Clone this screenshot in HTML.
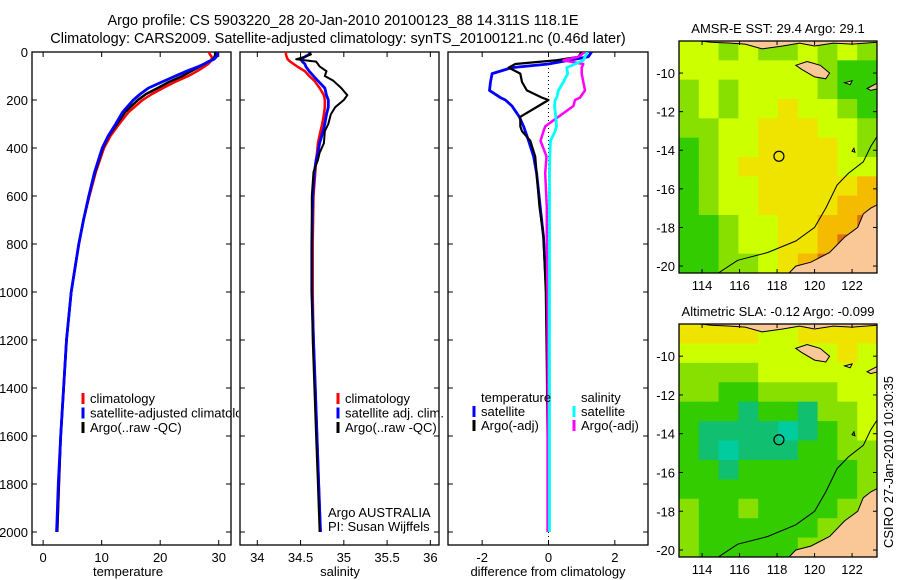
<!DOCTYPE html>
<html><head><meta charset="utf-8"><style>
html,body{margin:0;padding:0;background:#fff;}
svg{display:block;font-family:"Liberation Sans",sans-serif;}
</style></head><body>
<svg id="fig" width="900" height="580" xmlns="http://www.w3.org/2000/svg">
<text x="343" y="25" font-size="14.5" text-anchor="middle">Argo profile: CS 5903220_28 20-Jan-2010 20100123_88 14.311S 118.1E</text>
<text x="338" y="43" font-size="14.5" text-anchor="middle">Climatology: CARS2009. Satellite-adjusted climatology: synTS_20100121.nc (0.46d later)</text>
<text x="0" y="0" font-size="13" text-anchor="middle" transform="translate(893,462) rotate(-90)">CSIRO 27-Jan-2010 10:30:35</text>
</svg>
<script>
// ---------- profile data ----------
const tDepth = [0,10,20,30,40,50,60,80,100,125,150,175,200,250,300,350,400,500,600,700,800,1000,1200,1400,1600,1800,2000];
const argoT = [29.4,29.4,29.3,29.0,28.2,27.5,26.8,25.3,23.8,21.5,19.6,17.6,16.2,14.0,12.6,11.2,10.2,8.9,7.8,6.9,6.1,4.8,4.0,3.5,3.0,2.7,2.4];
const climT = [28.3,28.5,28.8,28.8,28.6,28.2,27.6,26.3,24.8,22.5,20.5,18.6,17.0,14.6,13.0,11.5,10.4,9.0,7.9,6.9,6.1,4.8,4.0,3.5,3.0,2.7,2.4];
const satT  = [29.8,29.8,29.6,29.2,28.3,27.5,26.6,24.5,22.6,20.3,18.0,16.6,15.4,13.6,12.4,11.1,10.1,8.8,7.8,6.9,6.1,4.8,4.0,3.5,3.0,2.6,2.3];

const sDepth = [0,10,20,30,40,50,60,80,100,120,150,180,200,230,260,300,330,380,420,450,500,600,800,1000,1200,1400,1600,1800,2000];
const argoS = [34.6,34.62,34.55,34.45,34.68,34.7,34.72,34.8,34.78,34.88,34.97,35.04,35.0,34.9,34.85,34.82,34.78,34.77,34.72,34.7,34.65,34.63,34.63,34.63,34.64,34.66,34.68,34.70,34.72];
const climS = [34.33,34.33,34.34,34.35,34.38,34.42,34.46,34.55,34.6,34.66,34.72,34.77,34.78,34.78,34.77,34.75,34.73,34.7,34.69,34.68,34.67,34.65,34.64,34.64,34.65,34.67,34.69,34.71,34.73];
const satS  = [34.61,34.6,34.55,34.5,34.52,34.55,34.56,34.6,34.65,34.7,34.78,34.8,34.82,34.82,34.8,34.78,34.76,34.72,34.7,34.68,34.66,34.64,34.63,34.63,34.65,34.67,34.69,34.71,34.73];

const dDepth = [0,20,35,50,65,90,125,160,190,200,225,270,310,330,370,435,505,645,770,1000,1300,1600,2000];
const satTdiff  = [1.3,1.2,0.6,0,-1.1,-1.7,-1.75,-1.78,-1.45,-1.3,-1.1,-0.88,-0.75,-0.7,-0.6,-0.45,-0.36,-0.25,-0.15,-0.06,-0.02,0,0];
const argoTdiff = [1.0,0.9,0.2,-1.0,-1.2,-0.85,-0.8,-0.65,-0.2,0,-0.3,-0.85,-0.85,-0.8,-0.55,-0.4,-0.36,-0.27,-0.15,-0.08,-0.05,-0.03,-0.03];
const satSdiff  = [1.17,1.1,1.05,0.8,0.55,0.58,0.45,0.3,0.25,0.2,0.18,0.22,0.24,0.2,0.06,0.04,0.03,0.03,0.03,0.03,0.03,0.03,0.03];
const argoSdiff = [1.1,0.9,0.45,1.05,1.0,1.0,1.05,1.1,0.95,0.8,0.75,0.3,-0.1,-0.15,-0.24,-0.06,-0.1,-0.05,-0.05,-0.03,-0.02,-0.02,-0.02];

const depthTicks = [0,200,400,600,800,1000,1200,1400,1600,1800,2000];
const tempTicks = [0,10,20,30];
const salTicks = [34,34.5,35,35.5,36];
const diffTicks = [-2,0,2];
const lonTicks = [114,116,118,120,122];
const latTicks = [-10,-12,-14,-16,-18,-20];

// ---------- map grids (colour index values) ----------
const sstGrid = [
[6,6,5,6,5,5,6,5,6,5],
[6,6,6,6,6,6,6,5,4,4],
[5,6,5,6,6,6,6,5,4,4],
[5,6,5,6,6,7,6,6,5,4],
[5,5,6,6,7,7,7,6,6,5],
[4,5,6,6,7,7,7,7,6,5],
[4,5,6,7,7,7,7,7,6,6],
[4,5,6,6,7,7,7,7,7,8],
[4,5,6,6,7,7,7,7,8,8],
[4,4,5,6,6,7,7,8,8,9],
[4,4,5,6,6,7,7,8,9,9],
[4,4,5,5,6,7,8,9,9,9]];
const slaGrid = [
[7,7,7,7,6,6,7,7,7,7],
[6,6,6,6,6,6,6,6,7,6],
[5,5,5,5,6,6,6,6,6,6],
[5,5,4,4,5,5,5,5,6,6],
[4,4,4,3,4,4,3,5,5,6],
[4,3,3,3,3,2,3,4,5,6],
[4,3,2,3,3,3,4,4,5,5],
[4,4,3,4,4,4,4,4,4,5],
[4,4,4,4,4,4,4,4,4,5],
[5,4,4,5,4,4,4,4,5,5],
[5,4,4,4,4,4,4,5,5,6],
[5,4,4,4,4,4,5,5,6,6]];
const palette = {2:'#00cca0',3:'#10c070',4:'#33cc00',5:'#88e000',6:'#ccff00',7:'#eee400',8:'#f5bb00',9:'#e07010'};

const argoLon = 118.1, argoLat = -14.311;

const NS = 'http://www.w3.org/2000/svg';
const svg = document.getElementById('fig');
function mk(tag, attrs, parent){ const e=document.createElementNS(NS,tag); for(const k in attrs) e.setAttribute(k,attrs[k]); (parent||svg).appendChild(e); return e; }

function profilePanel(name, x0, x1, vmin, vmax, ticks, label, labelX, showDepthLabels){
  const y0=52, y1=545;
  const xs = v => x0 + (v - vmin)/(vmax - vmin)*(x1 - x0);
  const ys = d => 52 + d*0.24;
  const g = mk('g',{});
  
  
  const frame = mk('rect',{x:x0,y:y0,width:x1-x0,height:y1-y0,fill:'none',stroke:'#000','stroke-width':1.3},g);
  
  
  ticks.forEach(t=>{
    const x=xs(t);
    mk('line',{x1:x,x2:x,y1:y0,y2:y0+5,stroke:'#000'},g);
    mk('line',{x1:x,x2:x,y1:y1,y2:y1-5,stroke:'#000'},g);
    const tl=mk('text',{x:x,y:y1+17,'font-size':13,'text-anchor':'middle'},g);
    tl.textContent=String(t);
    
    
  });
  depthTicks.forEach(d=>{
    const y=ys(d);
    mk('line',{x1:x0,x2:x0+5,y1:y,y2:y,stroke:'#000'},g);
    mk('line',{x1:x1,x2:x1-5,y1:y,y2:y,stroke:'#000'},g);
    if(showDepthLabels){
      const tl=mk('text',{x:x0-4,y:y+5,'font-size':13,'text-anchor':'end'},g);
      tl.textContent=String(d);
      
      
    }
  });
  const al=mk('text',{x:labelX,y:576,'font-size':13,'text-anchor':'middle'},g);
  al.textContent=label;
  
  
  const clipId='clip-'+name;
  const cp=mk('clipPath',{id:clipId},g);
  mk('rect',{x:x0,y:y0,width:x1-x0,height:y1-y0},cp);
  const lines=mk('g',{'clip-path':'url(#'+clipId+')'},g);
  return {xs, ys, g, lines};
}
function series(p, depths, vals, color, w, name){
  const pts = depths.map((d,i)=>p.xs(vals[i]).toFixed(1)+','+p.ys(d).toFixed(1)).join(' ');
  const pl = mk('polyline',{points:pts,fill:'none',stroke:color,'stroke-width':w,'stroke-linejoin':'round'},p.lines);
  
  
}
function legend(p, x, y, color, text, name){
  if(color){ mk('line',{x1:x,x2:x,y1:y-10,y2:y+1,stroke:color,'stroke-width':3},p.g); }
  const t=mk('text',{x:x+7,y:y,'font-size':13},p.g);
  t.textContent=text;
  
  
}

// temperature
const pT = profilePanel('temperature', 32, 231, -1.9, 32.1, tempTicks, 'temperature', 128, true);
series(pT, tDepth, climT, '#ff0000', 2.5, 'temp-climatology-line');
series(pT, tDepth, argoT, '#000000', 2.5, 'temp-argo-line');
series(pT, tDepth, satT, '#0000ff', 2.8, 'temp-satellite-line');
const legClip = mk('clipPath',{id:'legclipT'}); mk('rect',{x:32,y:380,width:207,height:60},legClip);
const legG = mk('g',{'clip-path':'url(#legclipT)'}, pT.g);
[['#ff0000','climatology','legend-climatology'],['#0000ff','satellite-adjusted climatology','legend-satellite-adjusted'],['#000000','Argo(..raw -QC)','legend-argo-raw']].forEach((r,i)=>{
  const y=403+i*14.5;
  mk('line',{x1:83,x2:83,y1:y-10,y2:y+1,stroke:r[0],'stroke-width':3},legG);
  const t=mk('text',{x:90,y:y,'font-size':13},legG); t.textContent=r[1];
  
  
});

// salinity
const pS = profilePanel('salinity', 240, 439, 33.8, 36.1, salTicks, 'salinity', 340, false);
series(pS, sDepth, climS, '#ff0000', 2.5, 'sal-climatology-line');
series(pS, sDepth, satS, '#0000ff', 2.8, 'sal-satellite-line');
series(pS, sDepth, argoS, '#000000', 2, 'sal-argo-line');
legend(pS, 338, 403, '#ff0000', 'climatology', 'sal-legend-climatology');
legend(pS, 338, 417.5, '#0000ff', 'satellite adj. clim.', 'sal-legend-satellite');
legend(pS, 338, 432, '#000000', 'Argo(..raw -QC)', 'sal-legend-argo');
legend(pS, 321, 517, null, 'Argo AUSTRALIA', 'argo-agency-label');
legend(pS, 321, 531, null, 'PI: Susan Wijffels', 'pi-label');

// difference
const pD = profilePanel('difference', 448, 648, -3.03, 3.0, diffTicks, 'difference from climatology', 548, false);
mk('line',{x1:pD.xs(0),x2:pD.xs(0),y1:52,y2:545,stroke:'#000','stroke-dasharray':'1,3'},pD.lines);
series(pD, dDepth, satTdiff, '#0000ff', 2.8, 'diff-temp-satellite-line');
series(pD, dDepth, argoTdiff, '#000000', 2.2, 'diff-temp-argo-line');
series(pD, dDepth, argoSdiff, '#ff00ff', 2.5, 'diff-sal-argo-line');
series(pD, dDepth, satSdiff, '#00ffff', 2.8, 'diff-sal-satellite-line');
legend(pD, 474, 402, null, 'temperature', 'diff-legend-temperature');
legend(pD, 474, 416, '#0000ff', 'satellite', 'diff-legend-temp-satellite');
legend(pD, 474, 430, '#000000', 'Argo(-adj)', 'diff-legend-temp-argo');
legend(pD, 574, 402, null, 'salinity', 'diff-legend-salinity');
legend(pD, 574, 416, '#00ffff', 'satellite', 'diff-legend-sal-satellite');
legend(pD, 574, 430, '#ff00ff', 'Argo(-adj)', 'diff-legend-sal-argo');

// ---------- maps ----------
const LON0=112.77, LON1=123.33, LAT0=-8.34, LAT1=-20.36;
const australia=[[123.4,-16.8],[123.0,-17.0],[122.6,-17.3],[122.3,-18.0],[121.6,-18.5],[120.8,-19.3],[119.8,-19.8],[119.0,-20.0],[118.6,-20.4],[123.4,-20.4]];
const topIslands=[[113.5,-8.3],[123.4,-8.3],[123.4,-8.4],[122.0,-8.5],[121.0,-8.45],[120.0,-8.6],[119.2,-8.45],[118.3,-8.6],[117.2,-8.75],[116.3,-8.5],[115.5,-8.45],[114.5,-8.4]];
const sumba=[[119.0,-9.6],[119.6,-9.4],[120.3,-9.6],[120.8,-10.0],[120.6,-10.3],[120.0,-10.2],[119.3,-9.8]];
const savu=[[121.6,-10.5],[122.0,-10.4],[121.9,-10.6]];
const roti=[[122.8,-10.8],[123.4,-10.5],[123.4,-10.8],[123.0,-10.9]];
const ashmore=[[122.0,-14.05],[122.1,-13.9],[122.15,-14.1]];
const contour=[[114.8,-20.4],[115.9,-19.7],[117.5,-19.3],[119.0,-18.7],[120.0,-18.0],[120.6,-17.0],[121.2,-15.8],[121.8,-15.2],[122.6,-14.6],[123.0,-13.8],[123.33,-13.3]];

function mapPanel(name, top, bottom, grid, titleText){
  const x0=679, x1=877;
  const xs = lon => x0 + (lon-LON0)/(LON1-LON0)*(x1-x0);
  const ys = lat => top + (lat-LAT0)/(LAT1-LAT0)*(bottom-top);
  const g=mk('g',{});
  
  
  const cid='mclip-'+name;
  const cp=mk('clipPath',{id:cid},g); mk('rect',{x:x0,y:top,width:x1-x0,height:bottom-top},cp);
  const inner=mk('g',{'clip-path':'url(#'+cid+')'},g);
  const rows=grid.length, cols=grid[0].length;
  const cw=(x1-x0)/cols, ch=(bottom-top)/rows;
  grid.forEach((row,r)=>row.forEach((v,c)=>{
    const cell=mk('rect',{x:x0+c*cw,y:top+r*ch,width:cw+0.5,height:ch+0.5,fill:palette[v]},inner);
    
    
  }));
  const poly=(pts,nm)=>{ const p=mk('polygon',{points:pts.map(q=>xs(q[0]).toFixed(1)+','+ys(q[1]).toFixed(1)).join(' '),fill:'#fac896',stroke:'#000','stroke-width':1},inner);
      };
  poly(australia,'australia-land'); poly(topIslands,'lesser-sunda-islands'); poly(sumba,'sumba-island'); poly(savu,'savu-island'); poly(roti,'roti-island');
  mk('polygon',{points:ashmore.map(q=>xs(q[0]).toFixed(1)+','+ys(q[1]).toFixed(1)).join(' '),fill:'none',stroke:'#000'},inner);
  const ct=mk('polyline',{points:contour.map(q=>xs(q[0]).toFixed(1)+','+ys(q[1]).toFixed(1)).join(' '),fill:'none',stroke:'#000','stroke-width':1},inner);
   
  const mark=mk('circle',{cx:xs(argoLon),cy:ys(argoLat),r:5,fill:'none',stroke:'#000','stroke-width':1.2},inner);
   
  const fr=mk('rect',{x:x0,y:top,width:x1-x0,height:bottom-top,fill:'none',stroke:'#000','stroke-width':1.3},g);
   
  lonTicks.forEach(l=>{ const x=xs(l);
    mk('line',{x1:x,x2:x,y1:top,y2:top+4,stroke:'#000'},g);
    mk('line',{x1:x,x2:x,y1:bottom,y2:bottom-4,stroke:'#000'},g);
    const t=mk('text',{x:x,y:bottom+17,'font-size':13,'text-anchor':'middle'},g); t.textContent=String(l);
     
  });
  latTicks.forEach(l=>{ const y=ys(l);
    mk('line',{x1:x0,x2:x0+4,y1:y,y2:y,stroke:'#000'},g);
    mk('line',{x1:x1,x2:x1-4,y1:y,y2:y,stroke:'#000'},g);
    const t=mk('text',{x:x0-4,y:y+5,'font-size':13,'text-anchor':'end'},g); t.textContent=String(l);
     
  });
  const tt=mk('text',{x:778,y:top-8,'font-size':13,'text-anchor':'middle'},g); tt.textContent=titleText;
   
}
mapPanel('sst', 41, 273, sstGrid, 'AMSR-E SST: 29.4  Argo: 29.1');
mapPanel('sla', 324, 557, slaGrid, 'Altimetric SLA: -0.12  Argo: -0.099');
</script>
</body></html>
